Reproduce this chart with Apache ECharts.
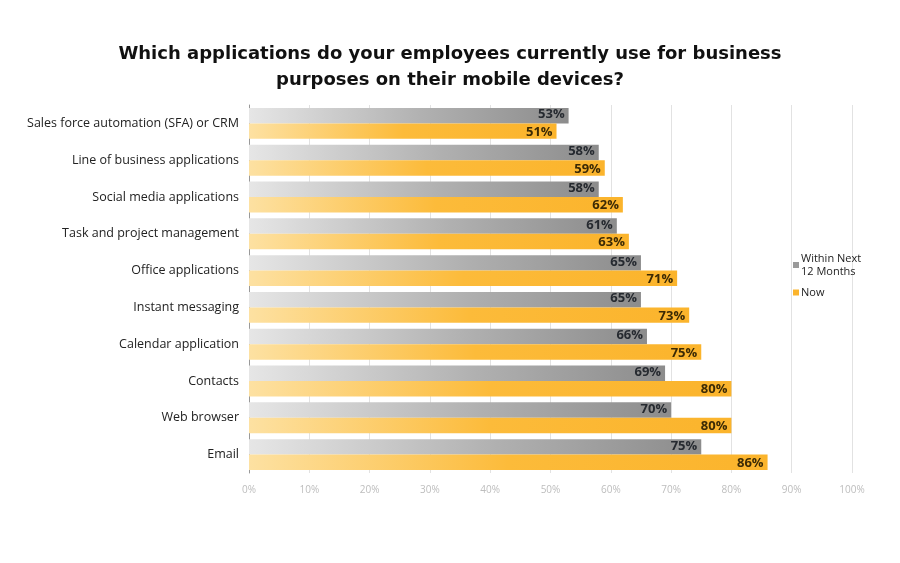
<!DOCTYPE html>
<html>
<head>
<meta charset="utf-8">
<script src="https://cdn.jsdelivr.net/npm/echarts@6/dist/echarts.min.js"></script>
<style>
	html, body { margin: 0; padding: 0; background: #fff; }
	#chart { width: 900px; height: 563px; }
</style>
</head>
<body>
<div id="chart"></div>
<script>
"use strict";

var categories = [
	'Sales force automation (SFA) or CRM',
	'Line of business applications',
	'Social media applications',
	'Task and project management',
	'Office applications',
	'Instant messaging',
	'Calendar application',
	'Contacts',
	'Web browser',
	'Email'
];
var nextYear = [53, 58, 58, 61, 65, 65, 66, 69, 70, 75];
var now = [51, 59, 62, 63, 71, 73, 75, 80, 80, 86];
var xTicks = [0, 10, 20, 30, 40, 50, 60, 70, 80, 90, 100];

var myChart = echarts.init(document.getElementById('chart'));

function grad(stops) {
	return new echarts.graphic.LinearGradient(0, 0, 1, 0, stops);
}

var grayFill = grad([
	{ offset: 0, color: '#e6e6e6' },
	{ offset: 0.55, color: '#b0b0b0' },
	{ offset: 1, color: '#8c8c8c' }
]);
var orangeFill = grad([
	{ offset: 0, color: '#fde1a2' },
	{ offset: 0.5, color: '#fcbb3a' },
	{ offset: 1, color: '#fbb42c' }
]);

var option = {
	animation: false,
	textStyle: { fontFamily: 'Open Sans' },
	title: {
		text: 'Which applications do your employees currently use for business\npurposes on their mobile devices?',
		left: 'center',
		top: 36,
		textStyle: {
			fontFamily: 'DejaVu Sans',
			fontSize: 18,
			fontWeight: 'bold',
			color: '#111',
			lineHeight: 26
		}
	},
	legend: {
		orient: 'vertical',
		left: 788,
		top: 247,
		itemWidth: 6,
		itemHeight: 6,
		itemGap: 8,
		icon: 'rect',
		data: [
			{ name: 'Within Next\n12 Months', itemStyle: { color: '#9a9a9a' } },
			{ name: 'Now', itemStyle: { color: '#fbb42c' } }
		],
		textStyle: { fontSize: 11, color: '#222', lineHeight: 13, padding: [0, 0, 0, -3] }
	},
	grid: { left: 249, right: 48, top: 105, bottom: 90 },
	xAxis: {
		type: 'value',
		min: 0,
		max: 100,
		interval: 10,
		axisLine: { show: false },
		axisTick: { show: false },
		splitLine: { lineStyle: { color: '#e2e2e2' } },
		axisLabel: {
			color: '#bdbdbd',
			fontSize: 10,
			margin: 12,
			formatter: function(v) { return xTicks.indexOf(v) >= 0 ? v + '%' : ''; }
		}
	},
	yAxis: {
		type: 'category',
		inverse: true,
		data: categories,
		axisLine: { lineStyle: { color: '#999' } },
		axisTick: { length: 4, lineStyle: { color: '#999' } },
		axisLabel: { color: '#222', fontSize: 12.5, margin: 10 }
	},
	series: [
		{
			name: 'Within Next\n12 Months',
			type: 'bar',
			data: nextYear,
			barCategoryGap: '16%',
			barGap: '0%',
			itemStyle: { color: grayFill },
			label: {
				show: true,
				position: 'insideRight',
				offset: [0, -1],
				distance: 4,
				formatter: '{c}%',
				fontWeight: 'bold',
				fontSize: 13,
				color: '#262a30'
			}
		},
		{
			name: 'Now',
			type: 'bar',
			data: now,
			barCategoryGap: '16%',
			barGap: '0%',
			itemStyle: { color: orangeFill },
			label: {
				show: true,
				position: 'insideRight',
				offset: [0, 1],
				distance: 4,
				formatter: '{c}%',
				fontWeight: 'bold',
				fontSize: 13,
				color: '#3b2a05'
			}
		}
	]
};

myChart.setOption(option);
</script>
</body>
</html>
